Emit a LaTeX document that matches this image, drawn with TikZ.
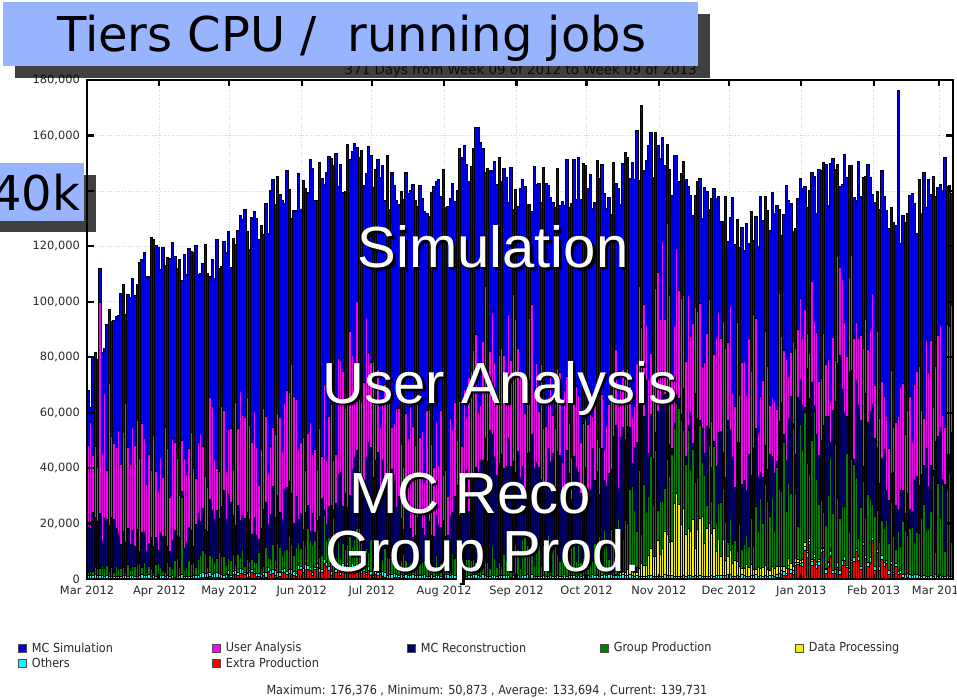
\documentclass[tikz,border=0pt]{standalone}
\usepackage{fontspec}
\setmainfont{DejaVu Sans}
\newfontfamily\condfont{DejaVu Sans Condensed}
\newfontfamily\bigfont{Liberation Sans}
\usepackage{tikz}
\usetikzlibrary{positioning}

\definecolor{titleblue}{RGB}{153,180,255}
\definecolor{mcsim}{RGB}{0,0,245}
\definecolor{useran}{RGB}{255,0,255}
\definecolor{mcreco}{RGB}{0,0,100}
\definecolor{groupprod}{RGB}{0,128,0}
\definecolor{dataproc}{RGB}{240,240,0}
\definecolor{others}{RGB}{0,255,255}
\definecolor{extraprod}{RGB}{255,0,0}
\definecolor{labelgrey}{RGB}{40,40,40}

% running jobs in thousands, one value every 14 days
\def\SimData{{75,100,119,112,115,129,139,143,151,144,139,140,158,139,141,145,140,155,146,134,127,131,138,148,144,128,144,140}}
\def\UsrData{{48,58,44,40,56,50,64,50,78,66,48,50,78,84,70,56,60,90,98,84,72,78,86,95,80,56,76,76}}
\def\RecData{{22,16,13,14,26,18,30,22,38,38,18,22,42,40,42,34,40,60,54,52,40,46,62,66,50,28,44,44}}
\def\GrpData{{2,3,3,5,6,5,8,10,14,6,5,5,6,10,10,8,12,26,26,24,10,26,40,30,16,14,26,30}}
\def\DatData{{0,0,0,0,0,0,0,0,0,0,0,0,0,0,0,0,0,4,24,16,4,3,1,0,0,0,0,0}}
\def\ExtData{{0,0,0,0,1,2,2,4,4,1,0,0,0,0,0,0,0,0,0,0,0,0,9,5,10,0.5,0,0}}

\newcommand\getval[3]{%
  \pgfmathsetmacro\dayfrac{#3/14}%
  \pgfmathtruncatemacro\dayidx{floor(\dayfrac)}%
  \pgfmathtruncatemacro\dayidxb{\dayidx+1}%
  \pgfmathsetmacro#1{#2[\dayidx]*(1-\dayfrac+\dayidx)+#2[\dayidxb]*(\dayfrac-\dayidx)}}
\newcommand\spike[2]{\ifnum\d=#1 \def\tSim{#2}\fi}

\begin{document}
\begin{tikzpicture}[x=1pt,y=-1pt,
    bar/.style={draw=black,line width=0.4pt},
    gridline/.style={gray!35,dotted,line width=0.7pt},
    tick/.style={black,line width=2.2pt},
    axislab/.style={font=\fontsize{11.4}{13}\selectfont,text=labelgrey,inner sep=0pt},
    ovl/.style={font=\bigfont\fontsize{58}{60}\selectfont,text=white,anchor=base,inner sep=0pt},
    ovlshade/.style={ovl,text=black},
    legbox/.style={draw=black!70,minimum size=8pt,inner sep=0pt},
    legtext/.style={font=\condfont\fontsize{12.5}{14}\selectfont,text=labelgrey,inner sep=0pt},
    boxshade/.style={fill=black,opacity=0.75}]

  \useasboundingbox (0,0) rectangle (957,700);

  \begin{scope}[shift={(87,579)},x=2.3342pt,y=2.772pt]
    \foreach \m in {31,61,92,122,153,184,214,245,275,306,337,365}
      \draw[gridline] (\m,0) -- (\m,180);
    \foreach \v in {20,40,...,160}
      \draw[gridline] (0,\v) -- (371,\v);

    \pgfmathsetseed{2013}
    \foreach \d in {0,...,370}{
      \getval\vSim\SimData{\d}
      \getval\vUsr\UsrData{\d}
      \getval\vRec\RecData{\d}
      \getval\vGrp\GrpData{\d}
      \getval\vDat\DatData{\d}
      \getval\vExt\ExtData{\d}
      \pgfmathsetmacro\tExt{\vExt*(0.3+1.2*rnd)}
      \pgfmathsetmacro\tOth{\tExt+0.8+0.9*rnd}
      \pgfmathsetmacro\tDat{\tOth+\vDat*(0.5+0.8*rnd)}
      \pgfmathsetmacro\tGrp{\tDat+\vGrp*(0.3+1.2*rnd)}
      \ifnum\d=40 \pgfmathsetmacro\tGrp{\tDat+28}\fi
      \pgfmathsetmacro\tRec{max(\tGrp+2,\vRec*(0.7+0.6*rnd))}
      \pgfmathsetmacro\tUsr{\tRec+(\vUsr-\vRec)*(0.5+1.0*rnd)}
      \ifnum\d=5 \def\tUsr{100}\fi
      \pgfmathsetmacro\tSim{\vSim*(0.93+0.14*rnd)}
      \spike{0}{68}\spike{1}{62}\spike{2}{80}\spike{5}{112}
      \spike{111}{157}\spike{167}{163}\spike{237}{171}
      \spike{347}{176.4}\spike{348}{121}
      \pgfmathsetmacro\tSim{max(\tUsr+3,\tSim)}
      \draw[bar,fill=extraprod] (\d,0) rectangle (\d+1,\tExt);
      \draw[bar,fill=others] (\d,\tExt) rectangle (\d+1,\tOth);
      \draw[bar,fill=dataproc] (\d,\tOth) rectangle (\d+1,\tDat);
      \draw[bar,fill=groupprod] (\d,\tDat) rectangle (\d+1,\tGrp);
      \draw[bar,fill=mcreco] (\d,\tGrp) rectangle (\d+1,\tRec);
      \draw[bar,fill=useran] (\d,\tRec) rectangle (\d+1,\tUsr);
      \draw[bar,fill=mcsim] (\d,\tUsr) rectangle (\d+1,\tSim);
    }

    \draw[line width=1.2pt] (0,0) rectangle (371,180);
    \foreach \v in {0,20,...,180}{
      \draw[tick] (0,\v) -- ++(7pt,0);
      \draw[tick] (371,\v) -- ++(-7pt,0);
      \node[axislab,anchor=east] (ylab\v) at ([xshift=-7pt]0,\v)
        {\ifnum\v=0 0\else\v,000\fi};
    }
    \foreach \m/\lab in {0/Mar 2012,31/Apr 2012,61/May 2012,92/Jun 2012,
        122/Jul 2012,153/Aug 2012,184/Sep 2012,214/Oct 2012,245/Nov 2012,
        275/Dec 2012,306/Jan 2013,337/Feb 2013,365/Mar 2013}{
      \draw[tick] (\m,180) -- ++(0,-6pt);
      \draw[tick] (\m,0) -- ++(0,5pt);
      \node[axislab,anchor=base] (xlab\m) at ([yshift=-15pt]\m,0) {\lab};
    }
  \end{scope}

  \node[axislab,anchor=base east,font=\fontsize{13.4}{15}\selectfont] (subtitle) at (697,75)
    {371 Days from Week 09 of 2012 to Week 09 of 2013};

  % title and y marker boxes
  \fill[boxshade] (15,14) rectangle (710,78);
  \fill[titleblue] (3,2) rectangle (698,66);
  \node[anchor=base west,inner sep=0pt,font=\fontsize{48}{56}\selectfont] (title) at (57,52)
    {Tiers CPU /\ \ running jobs};
  \fill[boxshade] (0,175) rectangle (96,232);
  \fill[titleblue] (0,163) rectangle (84,221);
  \node[anchor=base west,inner sep=0pt,font=\fontsize{48}{56}\selectfont] (fortyk) at (-9,211) {40k};

  \foreach \n/\t/\x/\y in {sim/Simulation/493/268,usr/User Analysis/500/403,
      reco/MC Reco/470/513,grp/Group Prod./483/571}{
    \node[ovlshade] (\n shade) at (\x+2.5,\y+2.5) {\t};
    \node[ovl] (\n) at (\x,\y) {\t};
  }

  \foreach \i/\c/\t/\x/\y in {1/mcsim/MC Simulation/22.5/648,
      2/useran/User Analysis/216.5/648,3/mcreco/MC Reconstruction/411.5/648,
      4/groupprod/Group Production/604.5/648,5/dataproc/Data Processing/799.5/648,
      6/others/Others/22.5/663,7/extraprod/Extra Production/216.5/663}{
    \node[legbox,fill=\c] (lb\i) at (\x,\y) {};
    \node[legtext,right=5pt of lb\i] (lt\i) {\t};
  }

  \node[legtext] (stats) at (487,691)
    {Maximum: 176,376 , Minimum: 50,873 , Average: 133,694 , Current: 139,731};
\end{tikzpicture}
\end{document}
